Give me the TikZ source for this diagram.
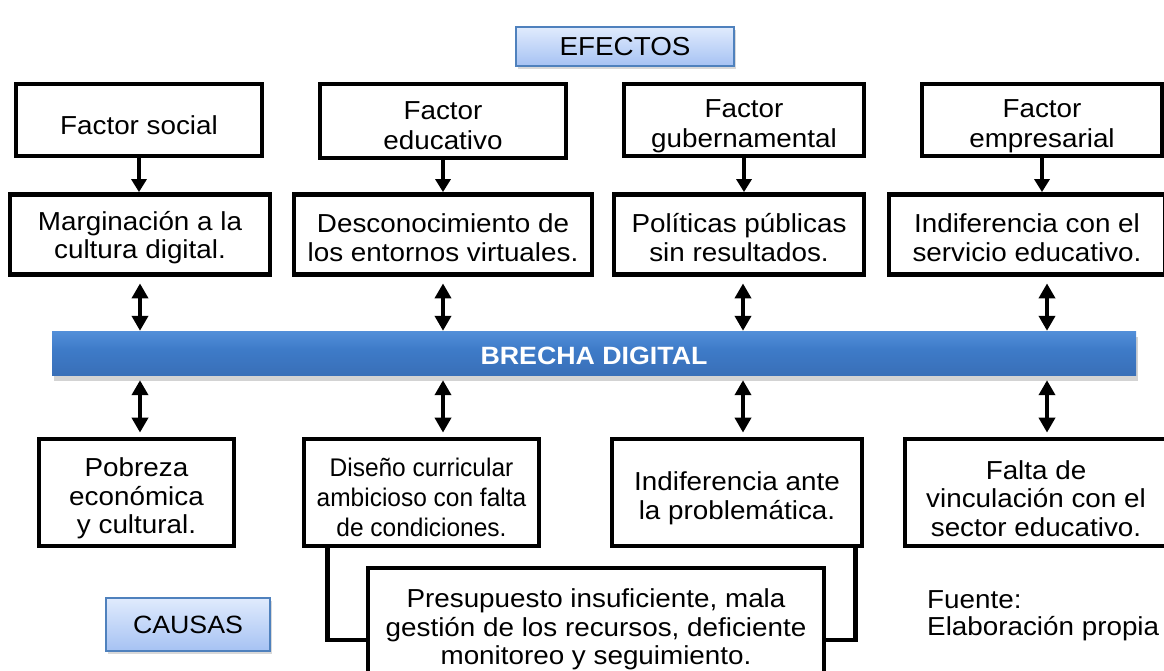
\documentclass[tikz,border=0pt]{standalone}
\usepackage{fontspec}
\setmainfont[FakeStretch=1.07]{Liberation Sans}
\newfontfamily\narrowfam[FakeStretch=0.96]{Liberation Sans}
\usetikzlibrary{arrows.meta,shadows}
\definecolor{lbtop}{HTML}{E0EBFD}
\definecolor{lbbot}{HTML}{A6C2F3}
\definecolor{bordblue}{HTML}{4F81BD}
\definecolor{barhi}{HTML}{A8CCF5}
\definecolor{bartop}{HTML}{5B97E0}
\definecolor{barmid}{HTML}{3E7BC8}
\definecolor{barlow}{HTML}{3668AE}
\definecolor{barbot}{HTML}{284F86}
\pgfdeclareverticalshading{barshade}{100bp}{color(0bp)=(barbot); color(8bp)=(barlow); color(55bp)=(barmid); color(84bp)=(bartop); color(94bp)=(barhi); color(100bp)=(barhi)}
\begin{document}
\begin{tikzpicture}[x=1pt,y=-1pt]
\tikzset{
  box/.style={draw=black, line width=4.8pt, fill=white, inner sep=0pt},
  txt/.style={align=center, inner sep=0pt, font=\fontsize{26}{28.5}\selectfont},
  lbl/.style={draw=bordblue, line width=1.5pt, top color=lbtop, bottom color=lbbot,
    drop shadow={opacity=0.3, shadow xshift=2pt, shadow yshift=-3pt},
    font=\fontsize{25}{28}\selectfont, inner sep=0pt},
  tip/.tip={Triangle[width=16pt,length=15pt]},
  arr/.style={line width=4.5pt, -{Triangle[width=15pt,length=13pt]}},
  darr/.style={line width=4.5pt, tip-tip},
  conn/.style={line width=4.8pt, line cap=rect},
}
\useasboundingbox (0,0) rectangle (1164,670);
\clip (0,0) rectangle (1164,670);

% labels
\node[lbl, minimum width=218pt, minimum height=39pt, font=\fontsize{26}{28}\selectfont] (efe) at (625,46.5) {EFECTOS};
\node[lbl, minimum width=164pt, minimum height=53pt] (cau) at (188,624.5) {CAUSAS};

% factor row
\node[box, minimum width=246pt, minimum height=72pt] (f1) at (139,120) {};
\node[box, minimum width=246pt, minimum height=74pt] (f2) at (443,121) {};
\node[box, minimum width=240pt, minimum height=72pt] (f3) at (744,120) {};
\node[box, minimum width=240pt, minimum height=72pt] (f4) at (1042,120) {};
\node[txt] (f1t) at ([yshift=-5pt]f1.center) {Factor social};
\node[txt, font=\fontsize{26}{30}\selectfont] (f2t) at ([yshift=-5pt]f2.center) {Factor\\educativo};
\node[txt, font=\fontsize{26}{30}\selectfont] (f3t) at ([yshift=-6pt]f3.center) {Factor\\gubernamental};
\node[txt, font=\fontsize{26}{30}\selectfont] (f4t) at ([yshift=-6pt]f4.center) {Factor\\empresarial};

% effects row
\node[box, minimum width=260pt, minimum height=80pt] (e1) at (140,234.5) {};
\node[box, minimum width=298pt, minimum height=80pt] (e2) at (443,234.5) {};
\node[box, minimum width=250pt, minimum height=80pt] (e3) at (739,234.5) {};
\node[box, minimum width=276pt, minimum height=80pt] (e4) at (1027,234.5) {};
\node[txt] (e1t) at ([yshift=-3pt]e1.center) {Marginación a la\\cultura digital.};
\node[txt] (e2t) at ([yshift=-3pt]e2.center) {Desconocimiento de\\los entornos virtuales.};
\node[txt] (e3t) at ([yshift=-3pt]e3.center) {Políticas públicas\\sin resultados.};
\node[txt] (e4t) at ([yshift=-3pt]e4.center) {Indiferencia con el\\servicio educativo.};

% central bar
\node[draw=none, minimum width=1084pt, minimum height=44pt, inner sep=0pt,
  shading=barshade,
  drop shadow={opacity=0.35, shadow xshift=2pt, shadow yshift=-5pt},
  text=white, font=\bfseries\fontsize{25}{28}\selectfont] (bar) at (594,353.5) {};
\node[text=white, inner sep=0pt, font=\bfseries\fontsize{25}{28}\selectfont] (bart) at ([yshift=-2pt]bar.center) {BRECHA DIGITAL};

% causes row
\node[box, minimum width=195pt, minimum height=107pt] (c1) at (136.5,492.5) {};
\node[box, minimum width=235pt, minimum height=107pt] (c2) at (421.5,492.5) {};
\node[box, minimum width=250pt, minimum height=107pt] (c3) at (737,492.5) {};
\node[box, minimum width=262pt, minimum height=107pt] (c4) at (1036,492.5) {};
\node[txt] (c1t) at ([yshift=-6pt]c1.center) {Pobreza\\económica\\y cultural.};
\node[txt, font=\narrowfam\fontsize{25.5}{30}\selectfont] (c2t) at ([yshift=-5pt]c2.center) {Diseño curricular\\ambicioso con falta\\de condiciones.};
\node[txt] (c3t) at ([yshift=-6pt]c3.center) {Indiferencia ante\\la problemática.};
\node[txt] (c4t) at ([yshift=-6pt]c4.center) {Falta de\\vinculación con el\\sector educativo.};

\node[box, minimum width=456pt, minimum height=116pt] (p) at (596,626) {};
\node[txt] (pt) at ([yshift=-3.5pt]p.center) {Presupuesto insuficiente, mala\\gestión de los recursos, deficiente\\monitoreo y seguimiento.};

% source
\node[anchor=west, align=left, inner sep=0pt, font=\fontsize{26}{27}\selectfont] (src) at (927,615.5) {Fuente:\\Elaboración propia};

% arrows factor -> effect
\foreach \i in {1,2,3,4}{
  \draw[arr] (f\i.south) -- (f\i.south |- e\i.north);
}
% double arrows effect <-> bar, bar <-> causes
\foreach \i/\xx in {1/140,2/443,3/743,4/1047}{
  \draw[darr, shorten <=6.5pt, shorten >=0.5pt] (e\i.south -| \xx,0) -- (bar.north -| \xx,0);
  \draw[darr, shorten <=4.5pt, shorten >=4pt] (bar.south -| \xx,0) -- (c\i.north -| \xx,0);
}
% brackets to budget box
\draw[conn] ([xshift=26pt]c2.south west) |- ([yshift=-14pt]p.west);
\draw[conn] ([xshift=-9pt]c3.south east) |- ([yshift=-14pt]p.east);
\end{tikzpicture}
\end{document}
